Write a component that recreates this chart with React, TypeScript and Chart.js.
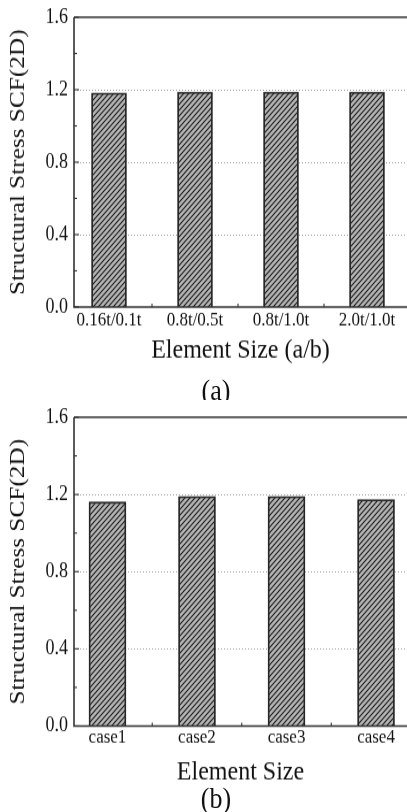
import React, { useEffect, useRef } from "react";
import { Chart, registerables } from "chart.js";
Chart.register(...registerables);

const categoriesA = ["0.16t/0.1t", "0.8t/0.5t", "0.8t/1.0t", "2.0t/1.0t"];
const valuesA = [1.182, 1.187, 1.187, 1.187];
const categoriesB = ["case1", "case2", "case3", "case4"];
const valuesB = [1.161, 1.19, 1.19, 1.173];
const yTicks = [0, 0.4, 0.8, 1.2, 1.6];
const yMinorTicks = [0.2, 0.6, 1.0, 1.4];
const yTitle = "Structural Stress SCF(2D)";
const xTitleA = "Element Size (a/b)";
const xTitleB = "Element Size";
const captionA = "(a)";
const captionB = "(b)";

const FONT = "'Liberation Serif', 'Times New Roman', serif";
const AXIS = "#333333";
const TEXT = "#111111";
// the reference figure is vertically stretched
const K = 1.15;

function makeHatch(): CanvasPattern | string {
  const c = document.createElement("canvas");
  c.width = 5;
  c.height = 5;
  const g = c.getContext("2d");
  if (!g) return "#b3b3b3";
  g.fillStyle = "#b6b6b6";
  g.fillRect(0, 0, 5, 5);
  g.strokeStyle = "#1a1a1a";
  g.lineWidth = 1.1;
  g.beginPath();
  g.moveTo(-1, 6);
  g.lineTo(6, -1);
  g.moveTo(-1, 1);
  g.lineTo(1, -1);
  g.moveTo(4, 6);
  g.lineTo(6, 4);
  g.stroke();
  return g.createPattern(c, "repeat") || "#b3b3b3";
}

const framePlugin = {
  id: "frame",
  beforeDatasetsDraw(chart: any) {
    const { ctx, chartArea, scales } = chart;
    const { left, right, bottom } = chartArea;
    const y = scales.y;
    const x = scales.x;
    ctx.save();
    ctx.strokeStyle = "#a0a0a0";
    ctx.lineWidth = 1;
    ctx.setLineDash([1, 2]);
    for (const v of yTicks) {
      if (v <= 0 || v >= 1.6) continue;
      const py = Math.round(y.getPixelForValue(v)) + 0.5;
      ctx.beginPath();
      ctx.moveTo(left, py);
      ctx.lineTo(right, py);
      ctx.stroke();
    }
    ctx.setLineDash([]);
    ctx.strokeStyle = AXIS;
    ctx.lineWidth = 1.1;
    for (const v of yTicks) {
      const py = y.getPixelForValue(v);
      ctx.beginPath();
      ctx.moveTo(left, py);
      ctx.lineTo(left + 5, py);
      ctx.stroke();
    }
    for (const v of yMinorTicks) {
      const py = y.getPixelForValue(v);
      ctx.beginPath();
      ctx.moveTo(left, py);
      ctx.lineTo(left + 3, py);
      ctx.stroke();
    }
    const n = x.ticks.length;
    for (let i = 1; i < n; i++) {
      const px = x.getPixelForValue(i + 0.5);
      ctx.beginPath();
      ctx.moveTo(px, bottom);
      ctx.lineTo(px, bottom - 3);
      ctx.stroke();
    }
    ctx.restore();
  },
  afterDatasetsDraw(chart: any) {
    const { ctx, chartArea } = chart;
    const { left, right, top, bottom } = chartArea;
    ctx.save();
    ctx.strokeStyle = AXIS;
    ctx.lineWidth = 1.6;
    ctx.beginPath();
    ctx.moveTo(left, top);
    ctx.lineTo(right, top);
    ctx.moveTo(left, top);
    ctx.lineTo(left, bottom);
    ctx.lineTo(right, bottom);
    ctx.stroke();
    ctx.restore();
  },
};

type PanelProps = {
  categories: string[];
  values: number[];
  xTitle: string;
  caption: string;
  xMin: number;
  xMax: number;
  barThickness: number;
  height: number; // screen px
  plotTop: number; // screen px
  plotBottom: number; // screen px
  titlePad: number;
  tickPad: number;
  captionTop: number; // screen px
};

function BarPanel(p: PanelProps) {
  const ref = useRef<HTMLCanvasElement>(null);
  const h = Math.round(p.height / K);
  useEffect(() => {
    const canvas = ref.current;
    if (!canvas) return;
    const hatch = makeHatch();
    const chart = new Chart(canvas, {
      type: "bar",
      data: {
        datasets: [
          {
            data: p.categories.map((_, i) => ({ x: i + 1, y: p.values[i] })),
            backgroundColor: hatch as any,
            borderColor: "#262626",
            borderWidth: 1.8,
            barThickness: p.barThickness,
          },
        ],
      },
      options: {
        animation: false,
        responsive: false,
        devicePixelRatio: 1,
        layout: { padding: { top: p.plotTop / K, right: 0, left: 0, bottom: 0 } },
        plugins: { legend: { display: false }, tooltip: { enabled: false } },
        scales: {
          x: {
            type: "linear",
            offset: false,
            min: p.xMin,
            max: p.xMax,
            grid: { display: false, drawTicks: false },
            border: { display: false },
            afterBuildTicks: (scale: any) => {
              scale.ticks = p.categories.map((_, i) => ({ value: i + 1 }));
            },
            afterFit: (scale: any) => {
              scale.height = h - p.plotBottom / K;
            },
            ticks: {
              autoSkip: false,
              maxRotation: 0,
              padding: p.tickPad,
              color: TEXT,
              font: { family: FONT, size: 17 },
              callback: (v: any) => p.categories[Math.round(Number(v)) - 1] ?? "",
            },
            title: {
              display: true,
              text: p.xTitle,
              color: TEXT,
              font: { family: FONT, size: 24 },
              padding: { top: 0, bottom: p.titlePad },
            },
          },
          y: {
            min: 0,
            max: 1.6,
            grid: { display: false, drawTicks: false },
            border: { display: false },
            afterBuildTicks: (scale: any) => {
              scale.ticks = yTicks.map((v) => ({ value: v }));
            },
            afterFit: (scale: any) => {
              scale.width = 74;
            },
            ticks: {
              padding: 6,
              color: TEXT,
              font: { family: FONT, size: 18, lineHeight: 1 },
              callback: (v: any) => Number(v).toFixed(1),
            },
            title: {
              display: true,
              text: yTitle,
              color: TEXT,
              font: { family: FONT, size: 22 },
              padding: { top: 5, bottom: 0 },
            },
          },
        },
      },
      plugins: [framePlugin],
    });
    return () => chart.destroy();
  }, []);
  return (
    <div
      style={{
        position: "absolute",
        left: 0,
        top: 0,
        width: 407,
        height: h + 60,
        transform: `scaleY(${K})`,
        transformOrigin: "top left",
      }}
    >
      <canvas ref={ref} width={407} height={h} style={{ display: "block", width: 407, height: h }} />
      <div
        style={{
          position: "absolute",
          left: 0,
          top: p.captionTop / K,
          width: 432,
          textAlign: "center",
          fontFamily: FONT,
          fontSize: 26,
          lineHeight: "26px",
          color: TEXT,
        }}
      >
        {p.caption}
      </div>
    </div>
  );
}

export default function App() {
  return (
    <div
      style={{
        position: "absolute",
        left: 0,
        top: 0,
        width: 407,
        height: 812,
        background: "#fff",
        overflow: "hidden",
      }}
    >
      <div style={{ position: "absolute", left: 0, top: 0, width: 407, height: 400, overflow: "hidden" }}>
        <BarPanel
          categories={categoriesA}
          values={valuesA}
          xTitle={xTitleA}
          caption={captionA}
          xMin={0.593}
          xMax={4.465}
          barThickness={35}
          height={372}
          plotTop={11}
          plotBottom={307}
          titlePad={3.5}
          tickPad={1}
          captionTop={376}
        />
      </div>
      <div style={{ position: "absolute", left: 0, top: 400, width: 407, height: 412, overflow: "hidden" }}>
        <BarPanel
          categories={categoriesB}
          values={valuesB}
          xTitle={xTitleB}
          caption={captionB}
          xMin={0.626}
          xMax={4.346}
          barThickness={37}
          height={390}
          plotTop={14}
          plotBottom={326}
          titlePad={0.5}
          tickPad={0}
          captionTop={384}
        />
      </div>
    </div>
  );
}
